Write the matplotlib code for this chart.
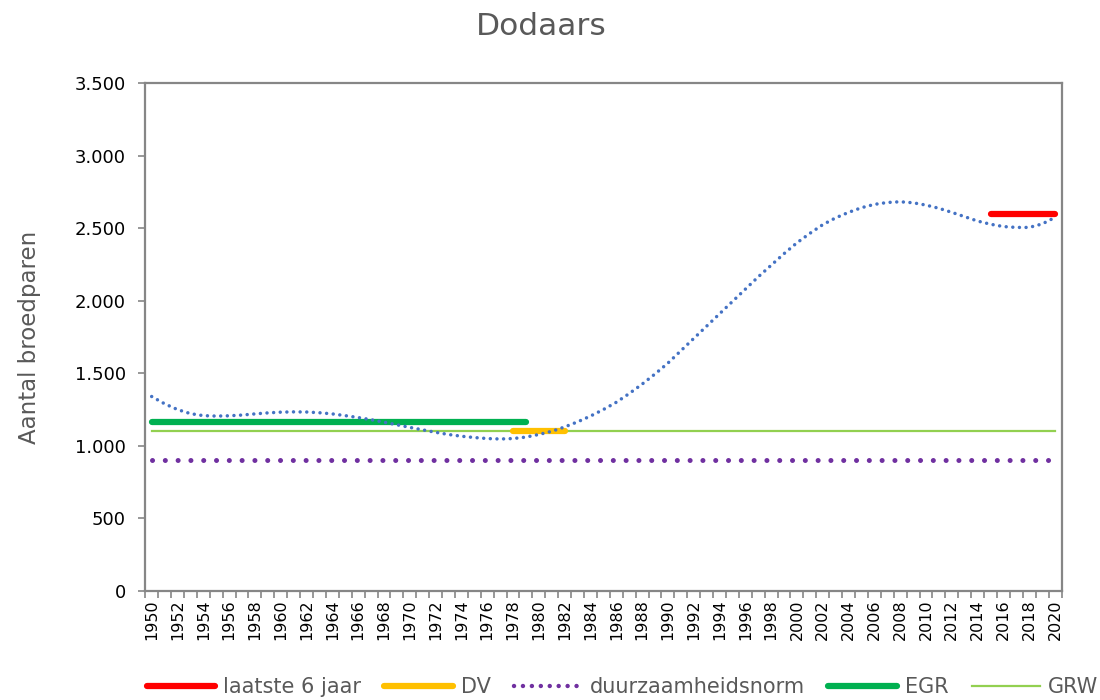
import numpy as np
import matplotlib.pyplot as plt
from matplotlib.ticker import FuncFormatter, FixedLocator
from matplotlib.lines import Line2D

# trend line (blue dotted), one value per year
years = list(range(1950, 2021))
trend = [1340, 1290, 1250, 1222, 1208, 1205, 1207, 1212, 1220, 1227,
         1232, 1234, 1233, 1228, 1220, 1208, 1195, 1180, 1163, 1145,
         1127, 1110, 1093, 1078, 1066, 1057, 1050, 1047, 1050, 1060,
         1078, 1100, 1130, 1165, 1205, 1250, 1300, 1360, 1425, 1495,
         1570, 1655, 1740, 1825, 1910, 1995, 2080, 2165, 2245, 2325,
         2400, 2465, 2525, 2572, 2610, 2642, 2665, 2678, 2683, 2676,
         2660, 2638, 2610, 2580, 2550, 2528, 2512, 2506, 2506, 2530,
         2575]

laatste_years = [2015, 2020]
laatste_val = [2600, 2600]
dv_years = [1978, 1982]
dv_val = [1100, 1100]
norm_years = [1950, 2020]
norm_val = [900, 900]
egr_years = [1950, 1979]
egr_val = [1165, 1165]
grw_years = [1950, 2020]
grw_val = [1100, 1100]

gray = '#595959'
plt.rcParams['font.family'] = ['DejaVu Sans']

fig = plt.figure(figsize=(11, 7), dpi=100)
ax = fig.add_axes([0.132, 0.156, 0.833, 0.725])

ax.plot(grw_years, grw_val, color='#92D050', lw=1.6, zorder=2)
ax.plot(norm_years, norm_val, color='#7030A0', lw=3.6, linestyle=(0, (0.01, 2.55)),
        dash_capstyle='round', zorder=2)
ax.plot(egr_years, egr_val, color='#00B050', lw=4.5, solid_capstyle='round', zorder=3)
ax.plot(dv_years, dv_val, color='#FFC000', lw=4.5, solid_capstyle='round', zorder=3)
ax.plot(laatste_years, laatste_val, color='#FF0000', lw=4.5, solid_capstyle='round', zorder=3)
ax.plot(years, trend, color='#4472C4', lw=2.5, linestyle=(0, (0.01, 1.9)),
        dash_capstyle='round', zorder=4)

ax.set_xlim(1949.5, 2020.5)
ax.set_ylim(0, 3500)
ax.set_yticks(np.arange(0, 3501, 500))
ax.yaxis.set_major_formatter(FuncFormatter(lambda v, p: f'{int(v):,}'.replace(',', '.')))

ax.xaxis.set_major_locator(FixedLocator(years[::2]))
ax.set_xticklabels([str(y) for y in years[::2]], rotation=90)
ax.xaxis.set_minor_locator(FixedLocator(np.arange(1949.5, 2021, 1.0)))
ax.tick_params(axis='x', which='major', length=0, labelsize=11.5, pad=6)
ax.tick_params(axis='x', which='minor', length=5, width=1.2, color='#868686')
ax.tick_params(axis='y', length=5, width=1.2, color='#868686', labelsize=13, pad=9)

for s in ax.spines.values():
    s.set_color('#868686')
    s.set_linewidth(1.6)

ax.set_ylabel('Aantal broedparen', fontsize=16.5, color=gray, labelpad=24)
fig.text(0.492, 0.962, 'Dodaars', ha='center', va='center', fontsize=22.5, color=gray)

handles = [
    Line2D([], [], color='#FF0000', lw=4.5, solid_capstyle='round'),
    Line2D([], [], color='#FFC000', lw=4.5, solid_capstyle='round'),
    Line2D([], [], color='#7030A0', lw=3.2, linestyle=(0, (0.01, 2.0)), dash_capstyle='round'),
    Line2D([], [], color='#00B050', lw=4.5, solid_capstyle='round'),
    Line2D([], [], color='#92D050', lw=1.6),
]
labels = ['laatste 6 jaar', 'DV', 'duurzaamheidsnorm', 'EGR', 'GRW']
leg = fig.legend(handles, labels, loc='center', bbox_to_anchor=(0.566, 0.018), ncol=5,
                 frameon=False, fontsize=15, handlelength=3.3, columnspacing=1.1,
                 handletextpad=0.38)
for t in leg.get_texts():
    t.set_color(gray)

fig.savefig('out.png', dpi=100)
